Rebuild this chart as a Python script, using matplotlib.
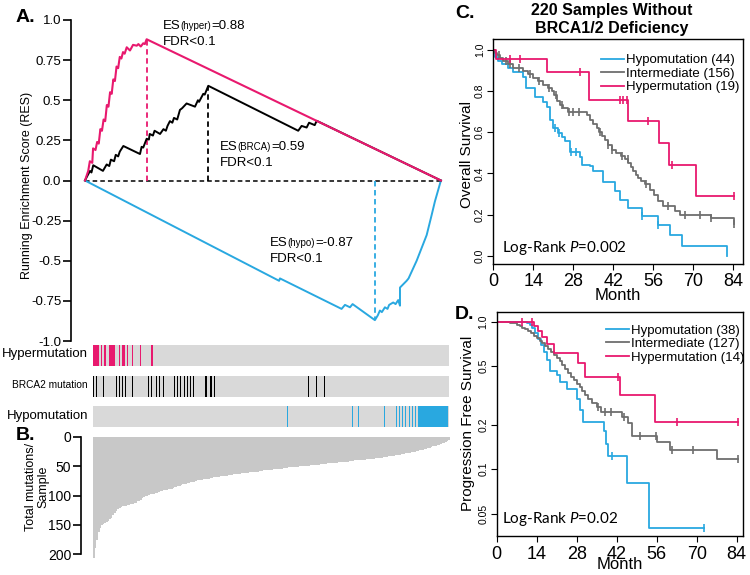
import numpy as np
import matplotlib.pyplot as plt
from matplotlib.offsetbox import TextArea, HPacker, VPacker, AnnotationBbox

plt.rcParams['font.family'] = ['Liberation Sans', 'DejaVu Sans']
plt.rcParams['mathtext.fontset'] = 'custom'
plt.rcParams['mathtext.rm'] = 'Lato'
plt.rcParams['mathtext.it'] = 'Lato:italic'

PINK = '#e8196e'
BLUE = '#29a8e0'
GRAY = '#6e6e6e'

# ---- panel A: running enrichment score vs sample rank (220 samples) ----
n_samples = 220
hyper_rank = [0, 2, 3, 4.5, 5, 6.5, 7.5, 8.5, 9.5, 10.5, 11.5, 12.5, 13.5, 14.5, 15.5, 16.5,
              17.5, 18.5, 19.5, 20.5, 21.5, 22.5, 23.5, 24.5, 25.8, 27.8, 29.7, 32, 33, 34.5,
              36, 37, 38.1, 220]
hyper_res = [0, 0.06, 0.12, 0.11, 0.2, 0.19, 0.24, 0.23, 0.32, 0.31, 0.38, 0.37, 0.47, 0.46,
             0.55, 0.54, 0.63, 0.62, 0.71, 0.70, 0.77, 0.76, 0.80, 0.79, 0.83, 0.81, 0.845,
             0.84, 0.85, 0.835, 0.855, 0.85, 0.88, 0]
brca_rank = [0, 1, 3.1, 4, 5.1, 11.1, 13.4, 15, 16, 18, 19, 20.5, 21.5, 23.7, 34, 35, 36, 38.1,
             39.5, 40, 42, 43, 46.4, 48.5, 50, 51, 52.5, 54, 55, 57, 58.7, 60, 62.8, 68, 69.8,
             70.5, 73.1, 74, 76.2, 131.8, 133.9, 137, 138.5, 142, 143.2, 220]
brca_res = [0, 0.02, 0.06, 0.05, 0.095, 0.06, 0.10, 0.09, 0.13, 0.12, 0.16, 0.15, 0.18, 0.215,
            0.165, 0.21, 0.205, 0.26, 0.255, 0.29, 0.28, 0.31, 0.29, 0.32, 0.31, 0.34, 0.37,
            0.36, 0.39, 0.38, 0.44, 0.45, 0.48, 0.46, 0.50, 0.49, 0.54, 0.535, 0.59, 0.31,
            0.34, 0.33, 0.36, 0.345, 0.372, 0]
hypo_rank = [0, 120, 120.5, 158.6, 160.7, 163.8, 165.4, 179.2, 181, 182.3, 183.5, 185.4, 187,
             188, 190.5, 192, 193.6, 194.7, 194.7, 198.8, 200, 205, 211.2, 214.3, 216.3, 220]
hypo_res = [0, -0.625, -0.61, -0.80, -0.775, -0.79, -0.77, -0.87, -0.84, -0.81, -0.82, -0.79,
            -0.80, -0.775, -0.76, -0.77, -0.745, -0.78, -0.667, -0.625, -0.61, -0.50, -0.34,
            -0.214, -0.13, 0]

# hit positions (sample rank) in each gene set
hyper_hits = [0, 1, 2, 3, 5, 7, 10, 11, 12, 13, 16, 18, 19, 21, 24, 29, 36]
brca_hits = [0, 2, 6, 14, 16, 18, 20, 24, 34, 36, 39, 41, 43, 50, 52, 54, 56, 58, 60, 62,
             69, 70, 72, 73, 75, 133, 138, 143]
hypo_hits = [120, 160, 164, 180, 182, 187, 189, 191, 193, 195, 197, 199, 201, 202, 203, 204,
             205, 206, 207, 208, 209, 210, 211, 212, 213, 214, 215, 216, 217, 218, 219]

# ---- panel B: total mutations per sample, ranked ----
mutations = [207, 190, 175, 163, 155, 151, 149, 147, 145, 143,
             140, 138, 133, 129, 126, 123, 121, 119, 118, 117,
             117, 116, 116, 115, 114, 113, 112, 110, 109, 107,
             104, 102, 101, 100, 99, 98, 97, 97, 96, 95,
             94, 93, 92, 91, 91, 90, 89, 88, 88, 87,
             86, 85, 84, 83, 82, 81, 80, 80, 79, 78,
             77, 77, 76, 75, 74, 74, 73, 73, 72, 72,
             71, 71, 70, 70, 69, 69, 68, 68, 67, 67,
             67, 66, 66, 65, 65, 65, 64, 64, 63, 63,
             63, 62, 62, 61, 61, 61, 60, 60, 60, 59,
             59, 59, 58, 58, 58, 57, 57, 57, 56, 56,
             56, 55, 55, 55, 54, 54, 54, 53, 53, 53,
             52, 52, 52, 51, 51, 51, 51, 50, 50, 50,
             49, 49, 49, 49, 48, 48, 48, 47, 47, 47,
             46, 46, 46, 46, 45, 45, 45, 44, 44, 44,
             44, 43, 43, 43, 42, 42, 42, 42, 41, 41,
             41, 40, 40, 40, 40, 39, 39, 39, 38, 38,
             38, 37, 37, 37, 36, 36, 36, 35, 35, 34,
             34, 34, 33, 33, 32, 32, 31, 31, 30, 30,
             29, 29, 28, 28, 27, 27, 26, 26, 25, 24,
             24, 23, 22, 22, 21, 20, 19, 18, 17, 16,
             16, 15, 14, 13, 12, 11, 10, 9, 7, 5]

# ---- panel C: overall survival (month, survival) ----
os_hypo_t = [0.5, 1.5, 3, 5, 7, 10.3, 11.6, 14.6, 17.5, 18.7, 19.8, 21, 22.7, 23.9, 25.1,
             26.8, 30.3, 31, 33.8, 35, 38.5, 42.6, 44.3, 47.2, 51.9, 57.5, 61.8, 65.9, 81.7]
os_hypo_s = [0.965, 0.945, 0.93, 0.91, 0.893, 0.869, 0.813, 0.772, 0.745, 0.72, 0.66, 0.62,
             0.595, 0.579, 0.555, 0.506, 0.482, 0.442, 0.434, 0.41, 0.361, 0.313, 0.272,
             0.232, 0.192, 0.152, 0.103, 0.05, 0.0]
os_hypo_cens = [21.5, 23, 27.3, 28.8, 52.2, 57.8]
os_hypo_end = 81.7

os_mid_t = [0.5, 1.2, 2.5, 3.5, 5, 7, 10.5, 12, 14, 15.5, 17.5, 19, 20.4, 21.2, 22.2, 23.5,
            24.5, 26, 32.7, 33.8, 35, 36.2, 37, 38, 39, 40, 41.4, 43, 44.7, 46, 47.3, 48.2,
            48.9, 49.8, 50.6, 51.8, 53, 54.7, 56.4, 57.6, 59.4, 63.5, 65.2, 76.3, 84.3]
os_mid_s = [0.985, 0.976, 0.96, 0.944, 0.93, 0.911, 0.895, 0.88, 0.863, 0.85, 0.83, 0.815,
            0.80, 0.78, 0.75, 0.73, 0.715, 0.70, 0.685, 0.66, 0.64, 0.62, 0.60, 0.58, 0.56,
            0.54, 0.515, 0.50, 0.484, 0.468, 0.452, 0.43, 0.411, 0.395, 0.379, 0.363, 0.347,
            0.322, 0.298, 0.266, 0.242, 0.218, 0.198, 0.185, 0.155]
os_mid_cens = [2, 4.5, 6, 9, 13, 16, 19.5, 22, 24, 26.5, 28, 30, 37.5, 40, 41.5, 45, 47,
               53.5, 61.3, 67, 72.3, 76.3, 84.3]
os_mid_end = 84.3

os_hyper_t = [0.8, 18.9, 33.6, 47.3, 58.1, 61.5, 70.8]
os_hyper_s = [0.955, 0.89, 0.755, 0.655, 0.548, 0.443, 0.29]
os_hyper_cens = [5.8, 9.3, 30.3, 44.3, 45.5, 46.8, 54.3, 62.7, 84.3]
os_hyper_end = 84.3

# ---- panel D: progression free survival ----
pfs_hypo_t = [10.5, 11.5, 12.5, 13.5, 14.5, 15.5, 16.5, 17.5, 18.5, 21, 22.2, 24.5, 28, 29.2,
              30.3, 37.5, 38.3, 39.0, 45.5, 53.4]
pfs_hypo_s = [0.97, 0.94, 0.90, 0.84, 0.76, 0.69, 0.62, 0.55, 0.46, 0.435, 0.39, 0.35, 0.30,
              0.25, 0.21, 0.18, 0.148, 0.122, 0.080, 0.040]
pfs_hypo_cens = [40.2, 72.7]
pfs_hypo_end = 72.7

pfs_mid_t = [3, 4.5, 6, 7, 8, 9, 10, 11, 12, 13, 14, 15, 16, 17, 18, 19, 20, 21, 22, 23, 24,
             25, 26, 27, 28, 29, 30, 31, 32, 33.5, 35, 36.5, 44, 46, 47.3, 56, 60.7, 77]
pfs_mid_s = [0.99, 0.98, 0.97, 0.95, 0.93, 0.91, 0.89, 0.86, 0.83, 0.80, 0.77, 0.74, 0.71,
             0.68, 0.65, 0.62, 0.595, 0.57, 0.54, 0.51, 0.48, 0.45, 0.42, 0.40, 0.38, 0.36,
             0.34, 0.32, 0.30, 0.28, 0.265, 0.245, 0.227, 0.205, 0.168, 0.152, 0.135, 0.117]
pfs_mid_cens = [35.6, 38, 40, 44.5, 50.2, 55.8, 61.3, 68.6, 84.6]
pfs_mid_end = 84.6

pfs_hyper_t = [13.0, 14.5, 15.8, 17.5, 20.0, 28.6, 30.9, 43.2, 55.4]
pfs_hyper_s = [0.929, 0.857, 0.786, 0.70, 0.61, 0.52, 0.424, 0.318, 0.21]
pfs_hyper_cens = [8.7, 12.2, 42.5, 63, 84.4]
pfs_hyper_end = 84.5

os_labels = ['Hypomutation (44)', 'Intermediate (156)', 'Hypermutation (19)']
pfs_labels = ['Hypomutation (38)', 'Intermediate (127)', 'Hypermutation (14)']
month_ticks = [0, 14, 28, 42, 56, 70, 84]

W, H = 750, 575
fig = plt.figure(figsize=(W / 100, H / 100), dpi=100)


def px_axes(left, top, right, bottom):
    return fig.add_axes([left / W, 1 - bottom / H, (right - left) / W, (bottom - top) / H])


def ftext(x, y, s, **kw):
    return fig.text(x / W, 1 - y / H, s, **kw)


# ---------------- panel A ----------------
axA = px_axes(71, 20, 449, 341)
axA.set_xlim(-8.65, 225)
axA.set_ylim(-1, 1)
dash = (0, (3, 2))
axA.hlines(0, 0, n_samples, colors='black', linestyles=dash, lw=1.1)
for rank, res, col in [(hyper_rank, hyper_res, PINK), (brca_rank, brca_res, 'black'),
                       (hypo_rank, hypo_res, BLUE)]:
    r = np.array(res)
    i = np.argmax(np.abs(r))
    axA.vlines(rank[i], 0, r[i], colors=col, linestyles=dash, lw=1.3)
axA.plot(hypo_rank, hypo_res, color=BLUE, lw=1.4)
axA.plot(brca_rank, brca_res, color='black', lw=1.4)
axA.plot(hyper_rank, hyper_res, color=PINK, lw=1.5)

for s in ['top', 'right', 'bottom']:
    axA.spines[s].set_visible(False)
axA.spines['left'].set_bounds(-1, 1)
axA.spines['left'].set_linewidth(1.2)
axA.set_xticks([])
a_ticks = [1.0, 0.75, 0.5, 0.25, 0.0, -0.25, -0.5, -0.75, -1.0]
axA.set_yticks(a_ticks)
axA.set_yticklabels(['1.0', '0.75', '0.5', '0.25', '0.0', '-0.25', '-0.5', '-0.75', '-1.0'])
axA.tick_params(axis='y', direction='out', length=6, width=1.2, labelsize=9.5, pad=1)
ftext(27, 185, 'Running Enrichment Score (RES)', rotation=90, ha='center', va='center', size=9)


def es_label(tag, val, xy):
    row = HPacker(children=[TextArea('ES', textprops=dict(size=9.5)),
                            TextArea('(' + tag + ')', textprops=dict(size=7)),
                            TextArea('=' + val, textprops=dict(size=9.5))],
                  align='baseline', pad=0, sep=0)
    box = VPacker(children=[row, TextArea('FDR<0.1', textprops=dict(size=9.5))],
                  align='left', pad=0, sep=3)
    ab = AnnotationBbox(box, xy, xycoords='data', box_alignment=(0, 1), frameon=False,
                        pad=0, annotation_clip=False)
    axA.add_artist(ab)


es_label('hyper', '0.88', (48.2, 1.0))
es_label('BRCA', '0.59', (83.4, 0.245))
es_label('hypo', '-0.87', (114.3, -0.35))


def runs(hits):
    # group consecutive sample ranks so a solid block is drawn as one span
    out = []
    for h in hits:
        if out and h == out[-1][1] + 1:
            out[-1][1] = h
        else:
            out.append([h, h])
    return out


# gene-set hit rows
rows = [(hyper_hits, PINK, 345, 366, 'Hypermutation', 9.5, 0.85),
        (brca_hits, 'black', 376, 397, 'BRCA2 mutation', 7.3, 0.6),
        (hypo_hits, BLUE, 406, 427, 'Hypomutation', 9.5, 0.6)]
for hits, col, top, bot, name, fs, w in rows:
    ax = px_axes(93, top, 449, bot)
    ax.set_facecolor('#d9d9d9')
    for a, b in runs(hits):
        ax.axvspan(a, b + w, color=col, lw=0)
    ax.set_xlim(0, n_samples)
    ax.set_ylim(0, 1)
    ax.set_xticks([])
    ax.set_yticks([])
    for s in ax.spines.values():
        s.set_visible(False)
    ftext(88, (top + bot) / 2 - 1, name, ha='right', va='center', size=fs)

# ---------------- panel B ----------------
axB = px_axes(81, 437, 451, 560)
axB.bar(np.arange(len(mutations)), mutations, width=1.0, align='edge', color='#c8c8c8',
        linewidth=0)
axB.set_xlim(-7.4, 220.6)
axB.set_ylim(210, 0)
for s in ['top', 'right', 'bottom']:
    axB.spines[s].set_visible(False)
axB.spines['left'].set_bounds(0, 200)
axB.spines['left'].set_linewidth(1.2)
axB.set_xticks([])
axB.set_yticks([0, 50, 100, 150, 200])
axB.tick_params(axis='y', direction='out', length=6, width=1.2, labelsize=10, pad=1)
ftext(37, 487, 'Total mutations/\nSample', rotation=90, ha='center', va='center', size=9,
      multialignment='center', linespacing=1.0)


# ---------------- panels C and D ----------------
def km(ax, times, surv, end, cens, color):
    t = np.r_[0, times, end]
    s = np.r_[1.0, surv, surv[-1]]
    line, = ax.step(t, s, where='post', color=color, lw=1.3)
    idx = np.searchsorted(times, cens, side='right') - 1
    cy = np.where(idx < 0, 1.0, np.asarray(surv)[np.clip(idx, 0, None)])
    ax.plot(cens, cy, ls='none', marker='|', ms=6, mew=1.2, color=color)
    return line


def style_km(ax, xpad):
    for s in ax.spines.values():
        s.set_linewidth(1.0)
    ax.set_xticks(month_ticks)
    ax.tick_params(axis='x', direction='out', length=4, labelsize=13, pad=xpad)
    ax.tick_params(axis='y', direction='out', length=4, labelsize=7.5, labelrotation=90, pad=2)
    ax.minorticks_off()
    for lab in ax.get_yticklabels():
        lab.set_va('center')


axC = px_axes(493.3, 39.3, 743, 264.3)
hC = [km(axC, os_hypo_t, os_hypo_s, os_hypo_end, os_hypo_cens, BLUE),
      km(axC, os_mid_t, os_mid_s, os_mid_end, os_mid_cens, GRAY),
      km(axC, os_hyper_t, os_hyper_s, os_hyper_end, os_hyper_cens, PINK)]
axC.set_xlim(0, 87.4)
axC.set_ylim(-0.04, 1.05)
axC.set_yticks([0, 0.2, 0.4, 0.6, 0.8, 1.0])
axC.set_yticklabels(['0.0', '0.2', '0.4', '0.6', '0.8', '1.0'])
style_km(axC, 2)
axC.set_xlabel('Month', fontsize=12, labelpad=-1)
axC.legend(hC, os_labels, loc='upper right', bbox_to_anchor=(0.985, 0.935), frameon=False,
           fontsize=9.5, handlelength=1.7, handletextpad=0.15, labelspacing=0.1,
           borderpad=0, borderaxespad=0)
axC.text(0.034, 0.072, r'Log-Rank $P$=0.002', transform=axC.transAxes, fontsize=11,
         family='Lato', va='center')
ftext(467, 155, 'Overall Survival', rotation=90, ha='center', va='center', size=11)
ftext(612, 20, '220 Samples Without\nBRCA1/2 Deficiency', ha='center', va='center',
      size=11.5, weight='bold', linespacing=1.25)

axD = px_axes(496.7, 312, 743, 536)
hD = [km(axD, pfs_hypo_t, pfs_hypo_s, pfs_hypo_end, pfs_hypo_cens, BLUE),
      km(axD, pfs_mid_t, pfs_mid_s, pfs_mid_end, pfs_mid_cens, GRAY),
      km(axD, pfs_hyper_t, pfs_hyper_s, pfs_hyper_end, pfs_hyper_cens, PINK)]
axD.set_yscale('log')
axD.set_xlim(0, 86.2)
axD.set_ylim(0.0352, 1.16)
axD.set_yticks([0.05, 0.1, 0.2, 0.5, 1.0])
axD.set_yticklabels(['0.05', '0.1', '0.2', '0.5', '1.0'])
style_km(axD, 3)
axD.set_xlabel('Month', fontsize=12, labelpad=-4)
axD.legend(hD, pfs_labels, loc='upper right', bbox_to_anchor=(1.005, 0.945), frameon=False,
           fontsize=9.5, handlelength=1.7, handletextpad=0.15, labelspacing=0.1,
           borderpad=0, borderaxespad=0)
axD.text(0.02, 0.075, r'Log-Rank $P$=0.02', transform=axD.transAxes, fontsize=11,
         family='Lato', va='center')
ftext(468, 423, 'Progression Free Survival', rotation=90, ha='center', va='center', size=11)

# panel letters
for x, y, s in [(16, 18, 'A.'), (16, 435, 'B.'), (455, 14, 'C.'), (455, 315, 'D.')]:
    ftext(x, y, s, ha='left', va='center', size=14, weight='bold')

fig.savefig('out.png', dpi=100)
